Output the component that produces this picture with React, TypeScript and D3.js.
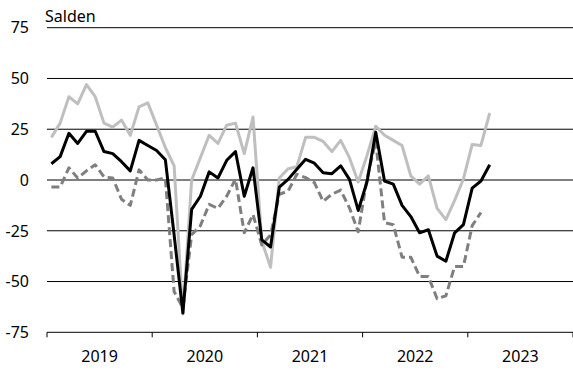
import React from "react";
import * as d3 from "d3";

const years = ["2019", "2020", "2021", "2022", "2023"];
const yTicks = [75, 50, 25, 0, -25, -50, -75];

const lightSeries = [
  21, 28, 41, 37.5, 47, 41, 28, 26, 29.5, 22, 36, 38,
  27, 16, 7, -66, 0, 11, 22, 18, 27, 28, 13, 31,
  -30, -43, 1, 5.5, 6.5, 21, 21, 19, 14, 19.5, 11, -1,
  12, 26.5, 22, 19.5, 17, 2, -2, 2, -14, -19.5, -10, 0.5,
  17.5, 17, 33,
];

const blackSeries = [
  8, 11.5, 23, 18, 24, 24, 14, 13, 9, 4.5, 19.5, 17,
  14.5, 10, -27, -65.5, -14.5, -8, 4, 1, 9.7, 14, -8, 6,
  -29.5, -33, -3.5, 0.3, 5.3, 10.2, 8.3, 3.6, 3.1, 7, 0.3, -15,
  -1, 23.5, -0.5, -2, -12.5, -18, -26, -24.5, -37.5, -40, -26, -22,
  -4, -0.5, 7.5,
];

const dashedSeries = [
  -3.5, -3.5, 6, 1, 4.5, 7.5, 1.5, 1, -9.5, -12.5, 5, 0,
  0, 1, -55, -63, -27, -22.5, -12, -14, -8, 0.5, -26, -17,
  -32, -27, -7, -5.5, 2.8, 1.2, -1.3, -10.5, -7, -5, -13.7, -25.5,
  0.5, 19, -21, -22, -38, -38, -47.5, -47.5, -58.5, -57, -42.6, -42.6,
  -22.5, -16,
];

const W = 573;
const H = 370;
const FONT = "'Noto Sans', sans-serif";

export default function App() {
  const x = d3.scaleLinear().domain([0, years.length * 12]).range([47, 573]);
  const y = d3.scaleLinear().domain([-75, 75]).range([332.3, 27.7]);

  const line = d3
    .line<number>()
    .x((_, i) => x(i + 0.5))
    .y((d) => y(d))
    .curve(d3.curveLinear);

  const yearBounds = d3.range(years.length + 1).map((k) => k * 12);

  return (
    <svg
      width={W}
      height={H}
      style={{ position: "absolute", left: 0, top: 0, background: "#fff" }}
      fontFamily={FONT}
    >
      <rect x={0} y={0} width={W} height={H} fill="#fff" />
      <text x={45} y={21.5} fontSize={16} fill="#000">
        Salden
      </text>
      {yTicks.map((t) => (
        <g key={t}>
          <line x1={x(0)} x2={W} y1={y(t)} y2={y(t)} stroke="#000" strokeWidth={1} />
          <text
            x={29}
            y={y(t)}
            dy="0.36em"
            textAnchor="end"
            fontSize={16}
            fill="#000"
          >
            {t}
          </text>
        </g>
      ))}
      {yearBounds.map((m) => (
        <line
          key={m}
          x1={x(m)}
          x2={x(m)}
          y1={y(-75)}
          y2={y(-75) + 5}
          stroke="#000"
          strokeWidth={1}
        />
      ))}
      {years.map((yr, k) => (
        <text
          key={yr}
          x={x(k * 12 + 6)}
          y={361.5}
          textAnchor="middle"
          fontSize={16}
          fill="#000"
        >
          {yr}
        </text>
      ))}
      <path d={line(lightSeries) ?? ""} fill="none" stroke="#bfbfbf" strokeWidth={3} strokeLinejoin="round" />
      <path
        d={line(dashedSeries) ?? ""}
        fill="none"
        stroke="#7f7f7f"
        strokeWidth={3}
        strokeDasharray="8,4"
        strokeLinejoin="round"
      />
      <path d={line(blackSeries) ?? ""} fill="none" stroke="#000" strokeWidth={3} strokeLinejoin="round" />
    </svg>
  );
}
